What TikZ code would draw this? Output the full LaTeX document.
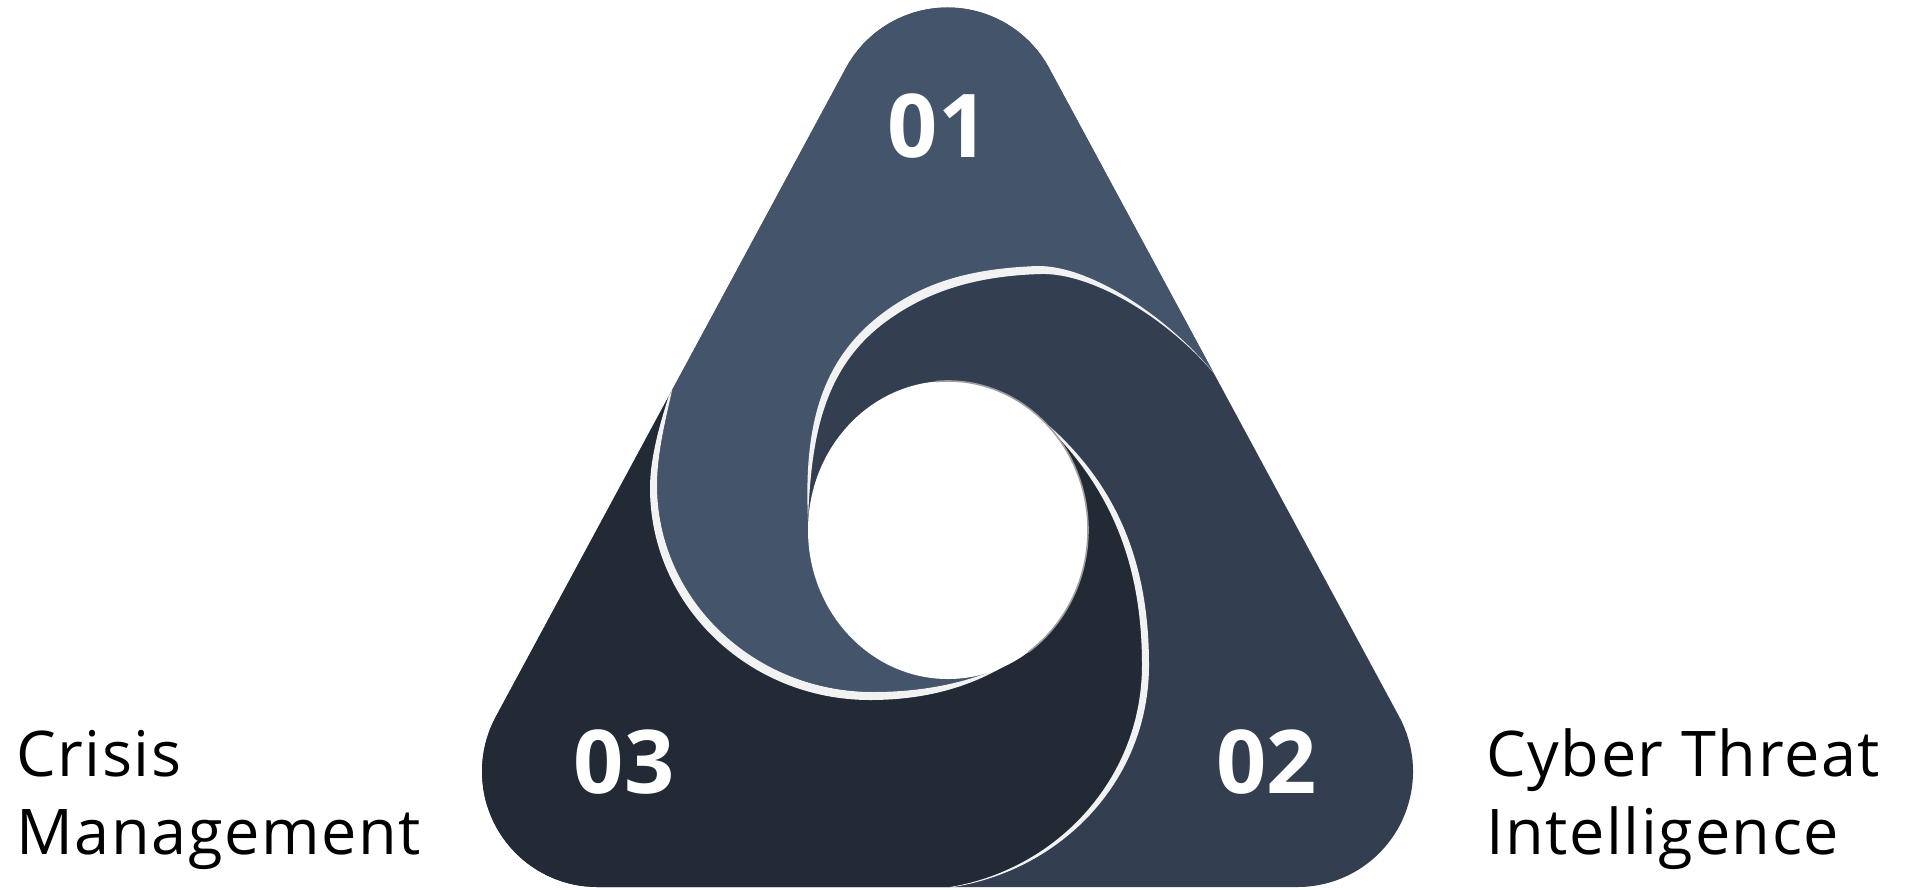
\documentclass[tikz,border=0pt]{standalone}
\usepackage{fontspec}
\setmainfont{Open Sans}
\newfontfamily\lblfont[LetterSpace=2.5]{Open Sans}
\definecolor{cA}{HTML}{44546A}
\definecolor{cB}{HTML}{333F50}
\definecolor{cC}{HTML}{222A35}
\definecolor{stripc}{HTML}{F2F2F2}
\begin{document}
\begin{tikzpicture}[x=1pt,y=1pt,yscale=-1,
  lbl/.style={inner sep=0pt, align=left, text=black, font=\lblfont\fontsize{63}{77.3}\selectfont},
  num/.style={inner sep=0pt, anchor=base, text=white, font=\fontsize{88}{88}\selectfont\bfseries},
  stripfill/.style={fill=stripc},
  holeedge/.style={draw=gray!75, line width=1.6pt}]
\useasboundingbox (0,0) rectangle (1908,889);
\fill[white] (0,0) rectangle (1908,889);

\begin{scope}
\clip (845.86,68.13) arc[start angle=208.37, end angle=331.63, radius=115.5]
  -- (1399.14,716.63) arc[start angle=-28.37, end angle=90, radius=115.5]
  -- (597.5,887) arc[start angle=90, end angle=208.37, radius=115.5] -- cycle;
% region B (background)
\fill[cB] (0,0) rectangle (1908,889);
% region A
\fill[cA] (1227,390) .. controls (1180,325) and (1095,272) .. (1040,274)
  .. controls (978,276) and (928,290) .. (884,323)
  .. controls (822,370) and (811.2,440) .. (808,520)
  -- (948,530) -- (1008,664)
  .. controls (975,680) and (930,692) .. (873,692)
  .. controls (753.7,692) and (657,599.3) .. (657,485)
  .. controls (657,450) and (668,410) .. (675.5,375)
  -- (560,330) -- (560,-50) -- (1350,-50) -- (1340,320) -- cycle;
% region C
\fill[cC] (675.5,375) .. controls (668,410) and (657,450) .. (657,485)
  .. controls (657,599.3) and (753.7,692) .. (873,692)
  .. controls (930,692) and (975,680) .. (1008,664)
  -- (948,530) -- (1030,410)
  .. controls (1105,476) and (1142,555) .. (1142,665)
  .. controls (1142,792) and (1036,889) .. (915,890)
  -- (915,960) -- (350,960) -- (350,330) -- (600,352) -- cycle;
% strip 1 (outer edge of arm A, lying in C)
\fill[stripfill] (675.5,375) .. controls (668,410) and (657,450) .. (657,485)
  .. controls (657,599.3) and (753.7,692) .. (873,692)
  .. controls (930,692) and (975,680) .. (1008,664)
  .. controls (978,682) and (935,700) .. (870,700)
  .. controls (748.5,700) and (650,605) .. (650,488)
  .. controls (650,450) and (666,405) .. (675.5,375) -- cycle;
% strip 2 (outer edge of arm B, lying in A)
\fill[stripfill] (1227,390) .. controls (1180,325) and (1095,272) .. (1040,274)
  .. controls (978,276) and (928,290) .. (884,323)
  .. controls (822,370) and (811.2,440) .. (808,520)
  .. controls (804,432) and (818,364) .. (879,316)
  .. controls (925,280) and (975,268.5) .. (1037,266)
  .. controls (1092,265) and (1178,322) .. (1227,390) -- cycle;
% strip 3 (outer edge of arm C, lying in B)
\fill[stripfill] (1030,410) .. controls (1105,476) and (1142,555) .. (1142,665)
  .. controls (1142,792) and (1036,889) .. (915,890)
  .. controls (1040,890) and (1149,794) .. (1149,665)
  .. controls (1149,552) and (1110,472) .. (1030,410) -- cycle;
% hole
\fill[white] (948,530) ellipse [x radius=140, y radius=149];
\draw[holeedge] (948,530) ++(-95:140 and 149) arc[start angle=-95, end angle=55, x radius=140, y radius=149];
\end{scope}

\node[num] (n1) at (938,157.3) {01};
\node[num] (n2) at (1266.7,793.3) {02};
\node[num] (n3) at (624,793.3) {03};

\node[lbl, anchor=base west] (crisis) at (16,854) {Crisis\\Management};
\node[lbl, anchor=base west] (cyber) at (1486,854) {Cyber Threat\\Intelligence};
\end{tikzpicture}
\end{document}
